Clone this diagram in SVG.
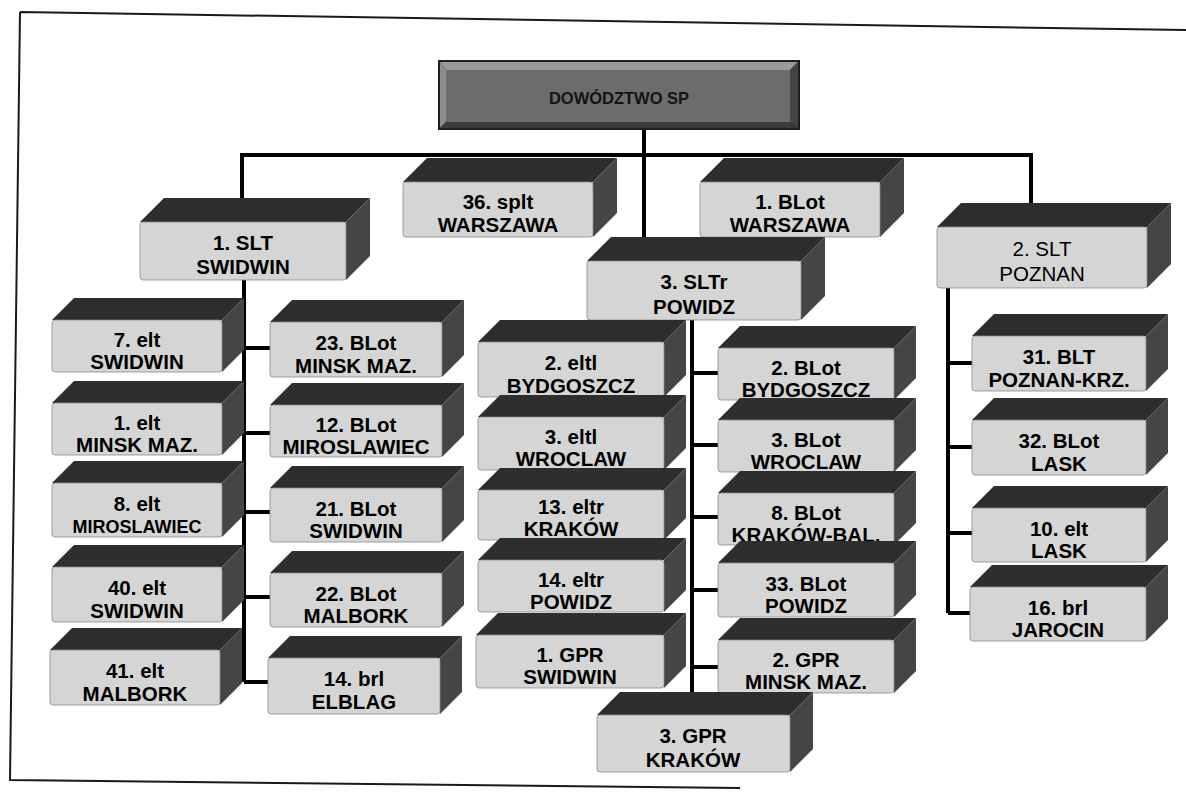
<svg xmlns="http://www.w3.org/2000/svg" width="1186" height="799" viewBox="0 0 1186 799">
<style>
  .top{fill:#2e2e2e}
  .side{fill:#454545}
  .front{fill:#d5d5d5;stroke:#8a8a8a;stroke-width:0.8}
  .t{font-family:"Liberation Sans",Arial,sans-serif;font-weight:bold;font-size:20.5px;fill:#000;text-anchor:middle}
  .tn{font-weight:normal}
  .c{stroke:#000;stroke-width:4;fill:none}
  .frame{stroke:#1a1a1a;stroke-width:2;fill:none}
</style>
<rect width="1186" height="799" fill="#fff"/>
<g id="frame">
  <path class="frame" d="M20,12 L1186,30 M20,12 L10,780 L740,788"/>
</g>
<g id="connectors">
  <path class="c" d="M240,155 H1033"/>
  <path class="c" d="M644,130 V238"/>
  <path class="c" d="M242,155 V200"/>
  <path class="c" d="M1031,155 V204"/>
  <path class="c" d="M244,280 V682 M244,348 H270 M244,433 H270 M244,512 H270 M244,597 H270 M244,682 H270"/>
  <path class="c" d="M692,320 V695 M692,373 H718 M692,445 H718 M692,517 H718 M692,590 H718 M692,667 H718"/>
  <path class="c" d="M948,288 V613 M948,363 H972 M948,447 H972 M948,533 H972 M948,613 H972"/>
</g>
<g id="dowodztwo">
  <rect x="438" y="60" width="362" height="70" fill="#1e1e1e"/>
  <polygon points="440,62 798,62 790,70 446,70" fill="#9a9a9a"/>
  <polygon points="440,62 446,70 446,122 440,128" fill="#8c8c8c"/>
  <polygon points="440,128 446,122 790,122 798,128" fill="#3a3a3a"/>
  <polygon points="798,62 790,70 790,122 798,128" fill="#444"/>
  <rect x="446" y="70" width="344" height="52" fill="#6c6c6c"/>
  <text class="t" x="619" y="104" style="font-size:16.5px;fill:#141414">DOWÓDZTWO SP</text>
</g>
<g id="n-1slt">
  <polygon class="top" points="140,222 164,198 370,198 346,222"/>
  <polygon class="side" points="346,222 370,198 370,256 346,280"/>
  <rect class="front" x="140" y="222" width="206" height="58" rx="3"/>
  <text class="t" x="243" y="250">1. SLT</text><text class="t" x="243" y="274">SWIDWIN</text>
</g>
<g id="n-36splt">
  <polygon class="top" points="403,182 427,158 617,158 593,182"/>
  <polygon class="side" points="593,182 617,158 617,213 593,237"/>
  <rect class="front" x="403" y="182" width="190" height="55" rx="3"/>
  <text class="t" x="498" y="209">36. splt</text><text class="t" x="498" y="232">WARSZAWA</text>
</g>
<g id="n-1blot">
  <polygon class="top" points="700,182 724,158 904,158 880,182"/>
  <polygon class="side" points="880,182 904,158 904,213 880,237"/>
  <rect class="front" x="700" y="182" width="180" height="55" rx="3"/>
  <text class="t" x="790" y="209">1. BLot</text><text class="t" x="790" y="232">WARSZAWA</text>
</g>
<g id="n-3sltr">
  <polygon class="top" points="587,261 611,237 825,237 801,261"/>
  <polygon class="side" points="801,261 825,237 825,296 801,320"/>
  <rect class="front" x="587" y="261" width="214" height="59" rx="3"/>
  <text class="t" x="694" y="289">3. SLTr</text><text class="t" x="694" y="314">POWIDZ</text>
</g>
<g id="n-2slt">
  <polygon class="top" points="937,227 961,203 1171,203 1147,227"/>
  <polygon class="side" points="1147,227 1171,203 1171,264 1147,288"/>
  <rect class="front" x="937" y="227" width="210" height="61" rx="3"/>
  <text class="t tn" x="1042" y="256">2. SLT</text><text class="t tn" x="1042" y="281">POZNAN</text>
</g>
<!-- left-left column -->
<g id="n-7elt">
  <polygon class="top" points="52,320 74,298 244,298 222,320"/>
  <polygon class="side" points="222,320 244,298 244,350 222,372"/>
  <rect class="front" x="52" y="320" width="170" height="52" rx="3"/>
  <text class="t" x="137" y="347">7. elt</text><text class="t" x="137" y="369">SWIDWIN</text>
</g>
<g id="n-1elt">
  <polygon class="top" points="52,403 74,381 244,381 222,403"/>
  <polygon class="side" points="222,403 244,381 244,433 222,455"/>
  <rect class="front" x="52" y="403" width="170" height="52" rx="3"/>
  <text class="t" x="137" y="430">1. elt</text><text class="t" x="137" y="452">MINSK MAZ.</text>
</g>
<g id="n-8elt">
  <polygon class="top" points="52,483 74,461 244,461 222,483"/>
  <polygon class="side" points="222,483 244,461 244,515 222,537"/>
  <rect class="front" x="52" y="483" width="170" height="54" rx="3"/>
  <text class="t" x="137" y="511">8. elt</text><text class="t" x="137" y="533" style="font-size:18px">MIROSLAWIEC</text>
</g>
<g id="n-40elt">
  <polygon class="top" points="52,567 74,545 244,545 222,567"/>
  <polygon class="side" points="222,567 244,545 244,600 222,622"/>
  <rect class="front" x="52" y="567" width="170" height="55" rx="3"/>
  <text class="t" x="137" y="595">40. elt</text><text class="t" x="137" y="618">SWIDWIN</text>
</g>
<g id="n-41elt">
  <polygon class="top" points="50,650 72,628 242,628 220,650"/>
  <polygon class="side" points="220,650 242,628 242,683 220,705"/>
  <rect class="front" x="50" y="650" width="170" height="55" rx="3"/>
  <text class="t" x="135" y="678">41. elt</text><text class="t" x="135" y="701">MALBORK</text>
</g>
<!-- left-right column -->
<g id="n-23blot">
  <polygon class="top" points="270,322 292,300 464,300 442,322"/>
  <polygon class="side" points="442,322 464,300 464,355 442,377"/>
  <rect class="front" x="270" y="322" width="172" height="55" rx="3"/>
  <text class="t" x="356" y="350">23. BLot</text><text class="t" x="356" y="373">MINSK MAZ.</text>
</g>
<g id="n-12blot">
  <polygon class="top" points="270,405 292,383 464,383 442,405"/>
  <polygon class="side" points="442,405 464,383 464,435 442,457"/>
  <rect class="front" x="270" y="405" width="172" height="52" rx="3"/>
  <text class="t" x="356" y="432">12. BLot</text><text class="t" x="356" y="454">MIROSLAWIEC</text>
</g>
<g id="n-21blot">
  <polygon class="top" points="270,488 292,466 464,466 442,488"/>
  <polygon class="side" points="442,488 464,466 464,520 442,542"/>
  <rect class="front" x="270" y="488" width="172" height="54" rx="3"/>
  <text class="t" x="356" y="516">21. BLot</text><text class="t" x="356" y="538">SWIDWIN</text>
</g>
<g id="n-22blot">
  <polygon class="top" points="270,573 292,551 464,551 442,573"/>
  <polygon class="side" points="442,573 464,551 464,605 442,627"/>
  <rect class="front" x="270" y="573" width="172" height="54" rx="3"/>
  <text class="t" x="356" y="601">22. BLot</text><text class="t" x="356" y="623">MALBORK</text>
</g>
<g id="n-14brl">
  <polygon class="top" points="268,658 290,636 462,636 440,658"/>
  <polygon class="side" points="440,658 462,636 462,692 440,714"/>
  <rect class="front" x="268" y="658" width="172" height="56" rx="3"/>
  <text class="t" x="354" y="686">14. brl</text><text class="t" x="354" y="709">ELBLAG</text>
</g>
<!-- middle-left column -->
<g id="n-2eltl">
  <polygon class="top" points="478,342 500,320 686,320 664,342"/>
  <polygon class="side" points="664,342 686,320 686,375 664,397"/>
  <rect class="front" x="478" y="342" width="186" height="55" rx="3"/>
  <text class="t" x="571" y="370">2. eltl</text><text class="t" x="571" y="393">BYDGOSZCZ</text>
</g>
<g id="n-3eltl">
  <polygon class="top" points="478,417 500,395 686,395 664,417"/>
  <polygon class="side" points="664,417 686,395 686,448 664,470"/>
  <rect class="front" x="478" y="417" width="186" height="53" rx="3"/>
  <text class="t" x="571" y="444">3. eltl</text><text class="t" x="571" y="466">WROCLAW</text>
</g>
<g id="n-13eltr">
  <polygon class="top" points="478,490 500,468 686,468 664,490"/>
  <polygon class="side" points="664,490 686,468 686,518 664,540"/>
  <rect class="front" x="478" y="490" width="186" height="50" rx="3"/>
  <text class="t" x="571" y="514">13. eltr</text><text class="t" x="571" y="536">KRAKÓW</text>
</g>
<g id="n-14eltr">
  <polygon class="top" points="478,560 500,538 686,538 664,560"/>
  <polygon class="side" points="664,560 686,538 686,590 664,612"/>
  <rect class="front" x="478" y="560" width="186" height="52" rx="3"/>
  <text class="t" x="571" y="587">14. eltr</text><text class="t" x="571" y="609">POWIDZ</text>
</g>
<g id="n-1gpr">
  <polygon class="top" points="476,635 498,613 686,613 664,635"/>
  <polygon class="side" points="664,635 686,613 686,666 664,688"/>
  <rect class="front" x="476" y="635" width="188" height="53" rx="3"/>
  <text class="t" x="570" y="662">1. GPR</text><text class="t" x="570" y="684">SWIDWIN</text>
</g>
<!-- middle-right column -->
<g id="n-2blot">
  <polygon class="top" points="718,348 740,326 916,326 894,348"/>
  <polygon class="side" points="894,348 916,326 916,378 894,400"/>
  <rect class="front" x="718" y="348" width="176" height="52" rx="3"/>
  <text class="t" x="806" y="375">2. BLot</text><text class="t" x="806" y="397">BYDGOSZCZ</text>
</g>
<g id="n-3blot">
  <polygon class="top" points="718,420 740,398 916,398 894,420"/>
  <polygon class="side" points="894,420 916,398 916,450 894,472"/>
  <rect class="front" x="718" y="420" width="176" height="52" rx="3"/>
  <text class="t" x="806" y="447">3. BLot</text><text class="t" x="806" y="469">WROCLAW</text>
</g>
<g id="n-8blot">
  <polygon class="top" points="718,493 740,471 916,471 894,493"/>
  <polygon class="side" points="894,493 916,471 916,523 894,545"/>
  <rect class="front" x="718" y="493" width="176" height="52" rx="3"/>
  <text class="t" x="806" y="520">8. BLot</text><text class="t" x="806" y="542">KRAKÓW-BAL.</text>
</g>
<g id="n-33blot">
  <polygon class="top" points="718,563 740,541 916,541 894,563"/>
  <polygon class="side" points="894,563 916,541 916,595 894,617"/>
  <rect class="front" x="718" y="563" width="176" height="54" rx="3"/>
  <text class="t" x="806" y="591">33. BLot</text><text class="t" x="806" y="613">POWIDZ</text>
</g>
<g id="n-2gpr">
  <polygon class="top" points="718,640 740,618 916,618 894,640"/>
  <polygon class="side" points="894,640 916,618 916,671 894,693"/>
  <rect class="front" x="718" y="640" width="176" height="53" rx="3"/>
  <text class="t" x="806" y="667">2. GPR</text><text class="t" x="806" y="689">MINSK MAZ.</text>
</g>
<g id="n-3gpr">
  <polygon class="top" points="597,715 620,692 813,692 790,715"/>
  <polygon class="side" points="790,715 813,692 813,749 790,772"/>
  <rect class="front" x="597" y="715" width="193" height="57" rx="3"/>
  <text class="t" x="693" y="743">3. GPR</text><text class="t" x="693" y="767">KRAKÓW</text>
</g>
<!-- right column -->
<g id="n-31blt">
  <polygon class="top" points="972,336 994,314 1168,314 1146,336"/>
  <polygon class="side" points="1146,336 1168,314 1168,369 1146,391"/>
  <rect class="front" x="972" y="336" width="174" height="55" rx="3"/>
  <text class="t" x="1059" y="364">31. BLT</text><text class="t" x="1059" y="387">POZNAN-KRZ.</text>
</g>
<g id="n-32blot">
  <polygon class="top" points="972,420 994,398 1168,398 1146,420"/>
  <polygon class="side" points="1146,420 1168,398 1168,453 1146,475"/>
  <rect class="front" x="972" y="420" width="174" height="55" rx="3"/>
  <text class="t" x="1059" y="448">32. BLot</text><text class="t" x="1059" y="471">LASK</text>
</g>
<g id="n-10elt">
  <polygon class="top" points="972,508 994,486 1168,486 1146,508"/>
  <polygon class="side" points="1146,508 1168,486 1168,540 1146,562"/>
  <rect class="front" x="972" y="508" width="174" height="54" rx="3"/>
  <text class="t" x="1059" y="536">10. elt</text><text class="t" x="1059" y="558">LASK</text>
</g>
<g id="n-16brl">
  <polygon class="top" points="970,587 992,565 1168,565 1146,587"/>
  <polygon class="side" points="1146,587 1168,565 1168,619 1146,641"/>
  <rect class="front" x="970" y="587" width="176" height="54" rx="3"/>
  <text class="t" x="1058" y="615">16. brl</text><text class="t" x="1058" y="637">JAROCIN</text>
</g>
</svg>
